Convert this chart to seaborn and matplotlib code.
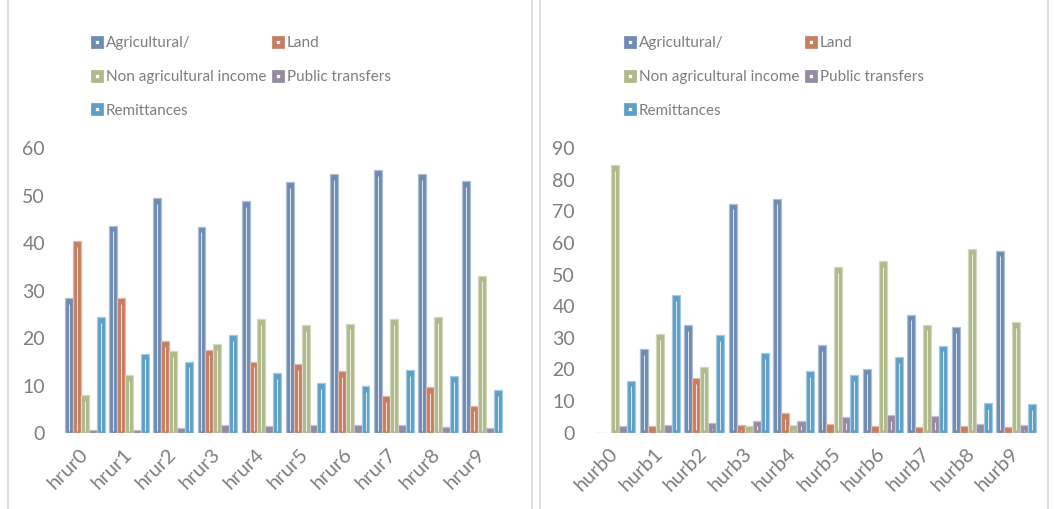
import numpy as np
import pandas as pd
import matplotlib
matplotlib.use("Agg")
import matplotlib.pyplot as plt
from matplotlib.lines import Line2D
from matplotlib.patches import Rectangle
import matplotlib.colors as mcolors
import seaborn as sns

# Income source shares by household group
series = ["Agricultural/", "Land", "Non agricultural income", "Public transfers", "Remittances"]

rural_groups = ["hrur0", "hrur1", "hrur2", "hrur3", "hrur4",
                "hrur5", "hrur6", "hrur7", "hrur8", "hrur9"]
rural_agri = [28.4, 43.7, 49.5, 43.5, 48.9, 52.8, 54.5, 55.4, 54.6, 53.1]
rural_land = [40.5, 28.5, 19.4, 17.6, 15.1, 14.6, 13.1, 7.8, 9.7, 5.8]
rural_nonag = [8.0, 12.3, 17.3, 18.7, 24.1, 22.7, 23.1, 24.1, 24.5, 33.2]
rural_public = [0.8, 0.8, 1.1, 1.7, 1.5, 1.7, 1.7, 1.7, 1.3, 1.1]
rural_remit = [24.4, 16.8, 15.1, 20.7, 12.6, 10.5, 9.9, 13.3, 12.1, 9.1]

urban_groups = ["hurb0", "hurb1", "hurb2", "hurb3", "hurb4",
                "hurb5", "hurb6", "hurb7", "hurb8", "hurb9"]
urban_agri = [0.0, 26.5, 34.0, 72.5, 74.1, 27.8, 20.3, 37.4, 33.4, 57.6]
urban_land = [0.0, 2.2, 17.3, 2.3, 6.2, 2.6, 2.0, 1.7, 2.0, 1.8]
urban_nonag = [84.7, 31.2, 20.7, 2.1, 2.4, 52.3, 54.2, 34.2, 58.2, 34.9]
urban_public = [2.2, 2.5, 3.1, 3.8, 3.8, 5.0, 5.6, 5.3, 2.7, 2.4]
urban_remit = [16.5, 43.6, 30.9, 25.2, 19.5, 18.3, 23.8, 27.5, 9.4, 9.1]

rural_yticks = [0, 10, 20, 30, 40, 50, 60]
urban_yticks = [0, 10, 20, 30, 40, 50, 60, 70, 80, 90]

colors = ["#6e8bb1", "#c67d62", "#afb98a", "#958aa3", "#5e9fc5"]
text_gray = "#7f7f7f"


def long_frame(groups, cols):
    rows = []
    for name, vals in zip(series, cols):
        for g, v in zip(groups, vals):
            rows.append({"group": g, "source": name, "value": v})
    return pd.DataFrame(rows)


rural_df = long_frame(rural_groups, [rural_agri, rural_land, rural_nonag, rural_public, rural_remit])
urban_df = long_frame(urban_groups, [urban_agri, urban_land, urban_nonag, urban_public, urban_remit])

sns.set_theme(style="white")
plt.rcParams["font.family"] = ["Lato", "DejaVu Sans"]

fig = plt.figure(figsize=(10.54, 5.09), dpi=100)

# Panel frames
fig.add_artist(Rectangle((8 / 1054, -0.01), 524 / 1054, 1.02, transform=fig.transFigure,
                         fill=False, edgecolor="#d9d9d9", lw=1.2))
fig.add_artist(Rectangle((540 / 1054, -0.01), 508 / 1054, 1.02, transform=fig.transFigure,
                         fill=False, edgecolor="#d9d9d9", lw=1.2))

ax1 = fig.add_axes([63 / 1054, 1 - 433.3 / 509, 441 / 1054, 285 / 509])
ax2 = fig.add_axes([593 / 1054, 1 - 432.7 / 509, 445.5 / 1054, 284.4 / 509])


def lighten(c, amt=0.35):
    r, g, b = mcolors.to_rgb(c)
    return (r + (1 - r) * amt, g + (1 - g) * amt, b + (1 - b) * amt)


def draw(ax, df, groups, yticks):
    sns.barplot(data=df, x="group", y="value", hue="source", order=groups,
                hue_order=series, palette=colors, width=0.9, ax=ax,
                legend=False, saturation=1, errorbar=None)
    ymax = yticks[-1]
    for p, c in zip(ax.patches, np.repeat(colors, len(groups))):
        p.set_edgecolor(lighten(c, 0.45))
        p.set_linewidth(0.9)
        h = p.get_height()
        if h > 2.5 * ymax / 100:
            cx = p.get_x() + p.get_width() / 2
            ax.plot([cx, cx], [ymax * 0.008, h - ymax * 0.02], color="white",
                    lw=0.8, alpha=0.75, solid_capstyle="butt")
    ax.set_ylim(0, ymax)
    ax.set_xlim(-0.5, len(groups) - 0.5)
    ax.set_yticks(yticks)
    ax.set_xlabel("")
    ax.set_ylabel("")
    for s in ax.spines.values():
        s.set_visible(False)
    ax.tick_params(axis="y", labelsize=14, colors=text_gray, length=0, pad=13)
    ax.tick_params(axis="x", labelsize=14.5, colors=text_gray, length=0, pad=13)
    plt.setp(ax.get_xticklabels(), rotation=45, ha="right", va="center",
             rotation_mode="anchor")


draw(ax1, rural_df, rural_groups, rural_yticks)
draw(ax2, urban_df, urban_groups, urban_yticks)

# Legends: row-wise order in two columns
order = [0, 2, 4, 1, 3]
handles = [Line2D([], [], marker="s", linestyle="none", markersize=6.2,
                  markerfacecolor="white", markeredgecolor=colors[i],
                  markeredgewidth=3.4) for i in order]
labels = [series[i] for i in order]
for x0 in (92 / 1054, 625 / 1054):
    leg = fig.legend(handles, labels, ncol=2, loc="upper left",
                     bbox_to_anchor=(x0, 1 - 36 / 509), frameon=False,
                     fontsize=11, labelcolor=text_gray, handlelength=0.6,
                     handletextpad=0.3, columnspacing=0.45, labelspacing=1.3,
                     borderpad=0, borderaxespad=0)

fig.savefig("out.png", dpi=100)
